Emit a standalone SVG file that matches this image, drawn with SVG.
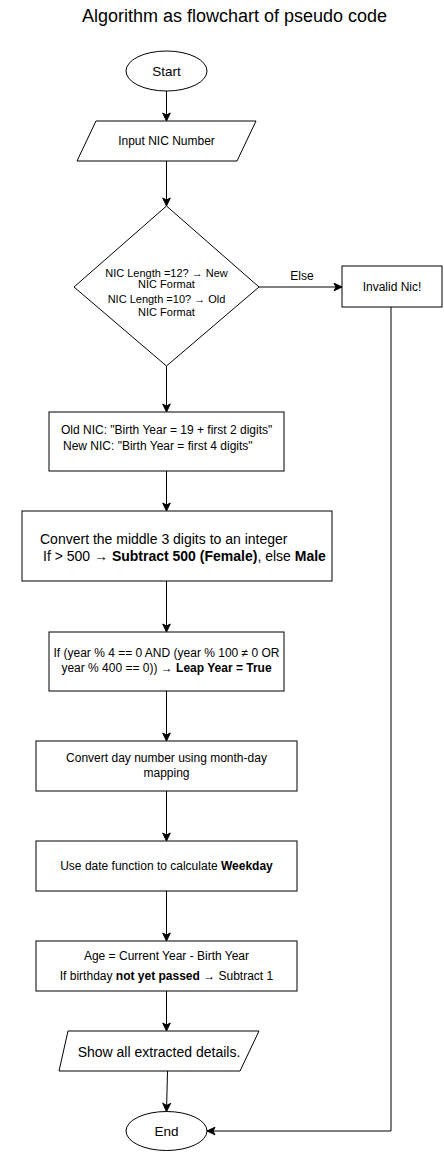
<svg xmlns="http://www.w3.org/2000/svg" width="444" height="1153" viewBox="0 0 444 1153">
<style>
.s{fill:#fff;stroke:#000;stroke-width:1}
.c{fill:none;stroke:#000;stroke-width:1}
text{font-family:"Liberation Sans",Arial,sans-serif;fill:#000}
.m{text-anchor:middle}
.b{font-weight:bold}
</style>
<defs>
<marker id="a" markerUnits="userSpaceOnUse" markerWidth="10" markerHeight="10" viewBox="0 0 10 10" refX="9" refY="5" orient="auto">
<path d="M1,1.2 L9,5 L1,8.8 L3,5 z" fill="#000" stroke="#000" stroke-width="1"/>
</marker>
</defs>
<rect width="444" height="1153" fill="#fff"/>
<text x="234.5" y="22" class="m" font-size="18">Algorithm as flowchart of pseudo code</text>

<g id="connectors">
<path class="c" d="M166.5,91 V121" marker-end="url(#a)"/>
<path class="c" d="M166.5,161 V206" marker-end="url(#a)"/>
<path class="c" d="M259,287 H342" marker-end="url(#a)"/>
<path class="c" d="M166.5,366 V412" marker-end="url(#a)"/>
<path class="c" d="M166.5,471 V511" marker-end="url(#a)"/>
<path class="c" d="M166.5,581 V632" marker-end="url(#a)"/>
<path class="c" d="M166.5,691 V741" marker-end="url(#a)"/>
<path class="c" d="M166.5,791 V841" marker-end="url(#a)"/>
<path class="c" d="M166.5,891 V941" marker-end="url(#a)"/>
<path class="c" d="M166.5,991 V1031" marker-end="url(#a)"/>
<path class="c" d="M167.5,1071 L166.5,1111.5" marker-end="url(#a)"/>
<path class="c" d="M391,307 V1131 H207" marker-end="url(#a)"/>
<text x="302" y="280" class="m" font-size="12">Else</text>
</g>

<g id="start">
<ellipse class="s" cx="166.5" cy="71" rx="40.5" ry="20"/>
<text x="166.5" y="75.7" class="m" font-size="13.5">Start</text>
</g>

<g id="input">
<polygon class="s" points="96,121 256,121 237,161 77,161"/>
<text x="166.5" y="145" class="m" font-size="12">Input NIC Number</text>
</g>

<g id="decision">
<polygon class="s" points="166.5,206 259,287 166.5,366 74,287"/>
<text class="m" font-size="11"><tspan x="166.5" y="276.6">NIC Length =12? → New</tspan><tspan x="166.5" y="288.2">NIC Format</tspan><tspan x="166.5" y="302.9">NIC Length =10? → Old</tspan><tspan x="166.5" y="316.2">NIC Format</tspan></text>
</g>

<g id="invalid">
<rect class="s" x="342" y="266" width="100" height="41"/>
<text x="392" y="291" class="m" font-size="12">Invalid Nic!</text>
</g>

<g id="birthyear">
<rect class="s" x="49" y="412" width="235" height="59"/>
<text font-size="12"><tspan x="61" y="434">Old NIC: "Birth Year = 19 + first 2 digits"</tspan><tspan x="63" y="450">New NIC: "Birth Year = first 4 digits"</tspan></text>
</g>

<g id="gender">
<rect class="s" x="22" y="511" width="310" height="70"/>
<text font-size="14"><tspan x="40" y="544">Convert the middle 3 digits to an integer</tspan><tspan x="43" y="560.6">If &gt; 500 → <tspan class="b">Subtract 500 (Female)</tspan>, else <tspan class="b">Male</tspan></tspan></text>
</g>

<g id="leap">
<rect class="s" x="49" y="632" width="235" height="59"/>
<text class="m" font-size="12"><tspan x="166.5" y="657.2">If (year % 4 == 0 AND (year % 100 ≠ 0 OR</tspan><tspan x="166.5" y="672.2">year % 400 == 0)) → <tspan class="b">Leap Year = True</tspan></tspan></text>
</g>

<g id="daymap">
<rect class="s" x="36" y="741" width="261" height="50"/>
<text class="m" font-size="12"><tspan x="166.5" y="762.2">Convert day number using month-day</tspan><tspan x="166.5" y="777.2">mapping</tspan></text>
</g>

<g id="weekday">
<rect class="s" x="36" y="841" width="261" height="50"/>
<text x="166.5" y="870" class="m" font-size="12">Use date function to calculate <tspan class="b">Weekday</tspan></text>
</g>

<g id="age">
<rect class="s" x="36" y="941" width="261" height="50"/>
<text class="m" font-size="12"><tspan x="166.5" y="960">Age = Current Year - Birth Year</tspan><tspan x="166.5" y="980.2">If birthday <tspan class="b">not yet passed</tspan> → Subtract 1</tspan></text>
</g>

<g id="output">
<polygon class="s" points="68,1031 259,1031 240,1071 59,1071"/>
<text x="159" y="1056.6" class="m" font-size="14">Show all extracted details.</text>
</g>

<g id="end">
<ellipse class="s" cx="166.5" cy="1131" rx="40.5" ry="19.5"/>
<text x="166.5" y="1135.7" class="m" font-size="13.5">End</text>
</g>
</svg>
